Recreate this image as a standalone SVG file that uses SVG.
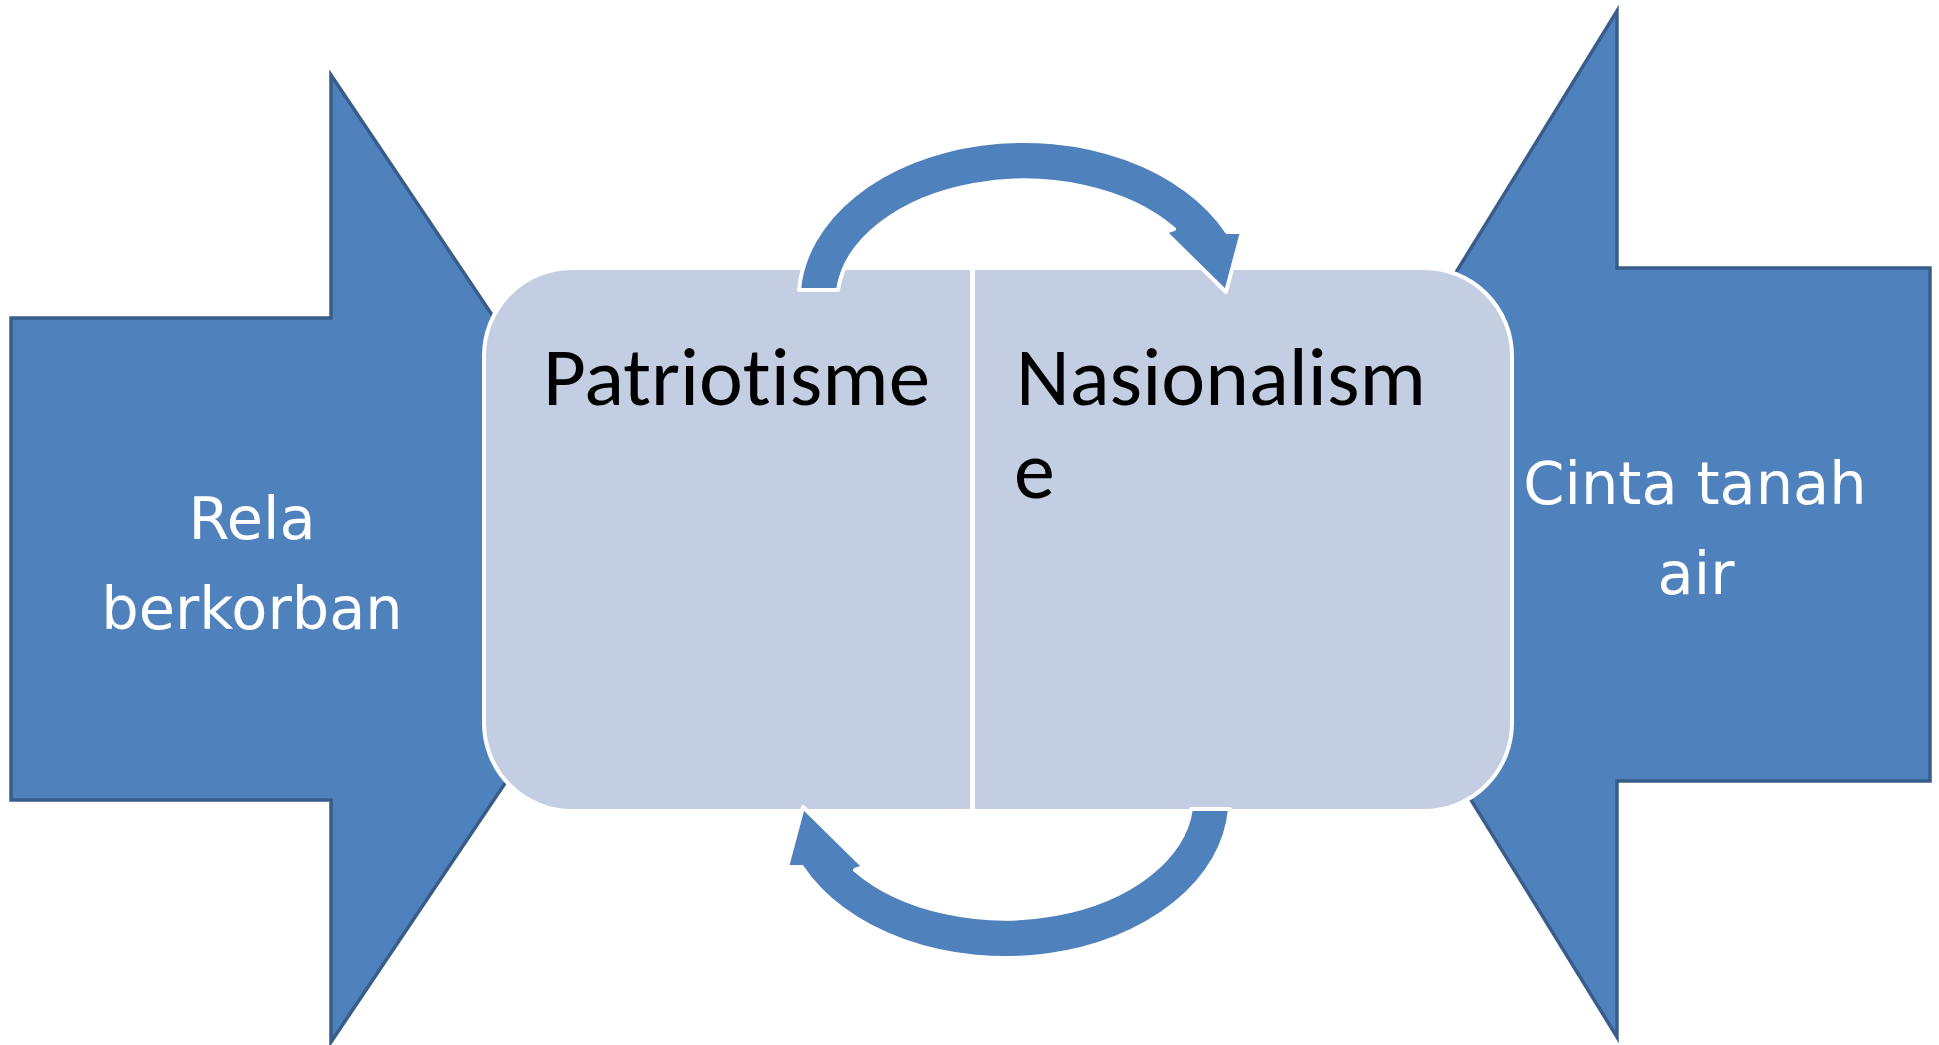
<svg xmlns="http://www.w3.org/2000/svg" width="1939" height="1045" viewBox="0 0 1939 1045">
<style>
.big{fill:#4F81BD;stroke:#385D8A;stroke-width:3.5;stroke-linejoin:miter}
.box{fill:#C3CEE2;stroke:#FFFFFF;stroke-width:4}
.curve{fill:#4F81BD;stroke:#FFFFFF;stroke-width:4;stroke-linejoin:round}
.wt{font-family:"DejaVu Sans",Verdana,sans-serif;font-size:59px;fill:#FFFFFF;text-anchor:middle}
.bt{font-family:Carlito,Calibri,Lato,"Open Sans",sans-serif;font-size:82px;fill:#000000;font-variant-ligatures:none}
</style>
<defs>
<path id="carrow" d="M 799,290 A 225 159 0 0 1 1227,232 L 1242,232 L 1226,292 L 1165,232 L 1174,229 A 187 121 0 0 0 838,290 Z"/>
</defs>
<g id="node-rela">
<path class="big" d="M 11,318 L 331,318 L 331,75 L 656,559 L 331,1042 L 331,800 L 11,800 Z"/>
<text class="wt" x="252" y="539">Rela</text>
<text class="wt" x="252" y="629">berkorban</text>
</g>
<g id="node-cinta">
<path class="big" d="M 1930,268 L 1617,268 L 1617,11 L 1301,524 L 1617,1037 L 1617,781 L 1930,781 Z"/>
<text class="wt" x="1695" y="504">Cinta tanah</text>
<text class="wt" x="1696" y="594">air</text>
</g>
<g id="node-box">
<rect class="box" x="484" y="268" width="1028" height="543" rx="88" ry="88"/>
<line x1="972.5" y1="268" x2="972.5" y2="811" stroke="#FFFFFF" stroke-width="5"/>
</g>
<g id="node-patriotisme">
<text class="bt" x="543" y="405" textLength="387" lengthAdjust="spacingAndGlyphs">Patriotisme</text>
</g>
<g id="node-nasionalisme">
<text class="bt" x="1016" y="405" textLength="410" lengthAdjust="spacingAndGlyphs">Nasionalism</text>
<text class="bt" x="1014" y="498">e</text>
</g>
<g id="connectors">
<use href="#carrow" class="curve"/>
<use href="#carrow" class="curve" transform="rotate(180 1014.5 549.5)"/>
</g>
</svg>
